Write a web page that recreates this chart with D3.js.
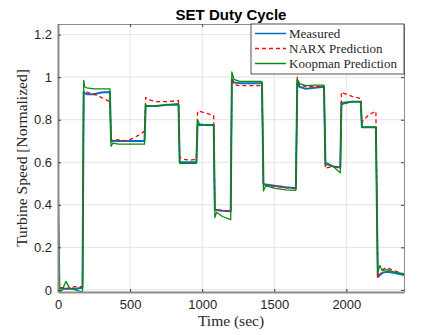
<html>
<head>
    <script src="https://d3js.org/d3.v7.min.js"></script>
    <style>
        body { margin: 0; background: #fff; }
    </style>
</head>
<body>
    <svg id="chart"></svg>
    <script>
        var Width = 447, Height = 335;
        var Margin = {left: 58, right: 43, top: 24, bottom: 43};

        // data
        var timeSec = [0, 10, 30, 55, 80, 120, 170, 178, 185, 200, 250, 300, 360, 368, 380, 420, 480, 540, 600,
            608, 620, 680, 760, 836, 844, 860, 920, 960, 968, 980, 1030, 1080, 1088, 1100, 1140, 1198,
            1206, 1220, 1260, 1330, 1415, 1425, 1440, 1500, 1580, 1650, 1660, 1675, 1720, 1780, 1845,
            1855, 1870, 1910, 1958, 1966, 1980, 2040, 2100, 2108, 2120, 2160, 2205, 2218, 2232, 2250,
            2280, 2330, 2400];
        var measured = [0.44, 0.01, 0.005, 0.005, 0.005, 0.005, 0.01, 0.93, 0.925, 0.92, 0.92, 0.928, 0.93, 0.70, 0.70, 0.70, 0.70, 0.70, 0.70,
            0.865, 0.865, 0.865, 0.87, 0.87, 0.60, 0.60, 0.60, 0.60, 0.78, 0.775, 0.775, 0.775, 0.375, 0.375, 0.372, 0.37,
            0.99, 0.975, 0.972, 0.972, 0.972, 0.50, 0.495, 0.49, 0.482, 0.478, 0.985, 0.955, 0.945, 0.95, 0.955,
            0.59, 0.59, 0.58, 0.575, 0.88, 0.88, 0.885, 0.885, 0.765, 0.765, 0.765, 0.765, 0.06, 0.07, 0.08,
            0.085, 0.08, 0.07];
        var narx = [0.44, 0.01, 0.01, 0.005, 0.01, 0.015, 0.015, 0.94, 0.935, 0.93, 0.92, 0.905, 0.885, 0.70, 0.705, 0.705, 0.70, 0.72, 0.745,
            0.905, 0.895, 0.885, 0.885, 0.89, 0.625, 0.615, 0.61, 0.615, 0.84, 0.84, 0.83, 0.82, 0.375, 0.375, 0.372, 0.37,
            0.995, 0.965, 0.96, 0.96, 0.96, 0.50, 0.49, 0.488, 0.48, 0.478, 1.0, 0.965, 0.955, 0.955, 0.955,
            0.57, 0.575, 0.58, 0.575, 0.93, 0.925, 0.91, 0.90, 0.785, 0.80, 0.825, 0.84, 0.055, 0.07, 0.095,
            0.105, 0.09, 0.075];
        var koopman = [0.44, -0.01, 0.0, 0.04, 0.008, 0.0, -0.01, 0.985, 0.955, 0.95, 0.945, 0.945, 0.945, 0.675, 0.69, 0.685, 0.685, 0.685, 0.685,
            0.87, 0.865, 0.865, 0.87, 0.875, 0.595, 0.595, 0.595, 0.595, 0.80, 0.78, 0.775, 0.775, 0.34, 0.365, 0.345, 0.33,
            1.025, 0.99, 0.98, 0.98, 0.98, 0.465, 0.49, 0.478, 0.47, 0.468, 0.99, 0.97, 0.96, 0.963, 0.963,
            0.60, 0.595, 0.58, 0.55, 0.87, 0.875, 0.885, 0.885, 0.765, 0.765, 0.765, 0.765, 0.08, 0.115, 0.09,
            0.095, 0.085, 0.075];

        var seriesNames = ["Measured", "NARX Prediction", "Koopman Prediction"];
        var seriesColors = ["#0072BD", "#FF0000", "#0A8A0A"];
        var xTicks = [0, 500, 1000, 1500, 2000];
        var yTicks = [0, 0.2, 0.4, 0.6, 0.8, 1, 1.2];

        var series = [measured, narx, koopman];

        var svg = d3.select("#chart")
            .attr("width", Width)
            .attr("height", Height);

        var x = d3.scaleLinear()
            .domain([0, 2400])
            .range([Margin.left, Width - Margin.right]);
        var y = d3.scaleLinear()
            .domain([-0.01, 1.25])
            .range([Height - Margin.bottom, Margin.top]);

        // grid
        svg.append("g").selectAll("line")
            .data(xTicks).enter().append("line")
                .attr("x1", function(d){ return x(d); })
                .attr("x2", function(d){ return x(d); })
                .attr("y1", y.range()[0])
                .attr("y2", y.range()[1])
                .attr("stroke", "#e3e3e3");
        svg.append("g").selectAll("line")
            .data(yTicks).enter().append("line")
                .attr("y1", function(d){ return y(d); })
                .attr("y2", function(d){ return y(d); })
                .attr("x1", x.range()[0])
                .attr("x2", x.range()[1])
                .attr("stroke", "#e3e3e3");

        // lines
        var line = d3.line()
            .x(function(d, i){ return x(timeSec[i]); })
            .y(function(d){ return y(d); });

        svg.append("defs").append("clipPath").attr("id", "clip")
            .append("rect")
                .attr("x", x.range()[0]).attr("y", y.range()[1])
                .attr("width", x.range()[1] - x.range()[0])
                .attr("height", y.range()[0] - y.range()[1]);

        var plot = svg.append("g").attr("clip-path", "url(#clip)");
        series.forEach(function(s, k){
            plot.append("path")
                .datum(s)
                .attr("d", line)
                .attr("fill", "none")
                .attr("stroke", seriesColors[k])
                .attr("stroke-width", k == 0 ? 2 : 1.3)
                .attr("stroke-dasharray", k == 1 ? "4,3" : null)
                .attr("stroke-linejoin", "round");
        });

        // axes (box with ticks on all sides)
        var tickFont = "Liberation Sans, Helvetica, Arial, sans-serif";
        var serifFont = "Liberation Serif, serif";
        function styleAxis(g)
        {
            g.select(".domain").attr("stroke", "#8c8c8c");
            g.selectAll(".tick line").attr("stroke", "#404040");
            g.selectAll(".tick text")
                .attr("fill", "#262626")
                .style("font-family", tickFont)
                .style("font-size", "13px");
        }
        var axBottom = svg.append("g")
            .attr("transform", "translate(0," + y.range()[0] + ")")
            .call(d3.axisBottom(x).tickValues(xTicks).tickSizeInner(-3).tickSizeOuter(0).tickPadding(8).tickFormat(d3.format("d")));
        styleAxis(axBottom);
        var axTop = svg.append("g")
            .attr("transform", "translate(0," + y.range()[1] + ")")
            .call(d3.axisTop(x).tickValues(xTicks).tickSizeInner(-3).tickSizeOuter(0).tickFormat(""));
        styleAxis(axTop);
        var axLeft = svg.append("g")
            .attr("transform", "translate(" + x.range()[0] + ",0)")
            .call(d3.axisLeft(y).tickValues(yTicks).tickSizeInner(-3).tickSizeOuter(0).tickPadding(6).tickFormat(d3.format("~g")));
        styleAxis(axLeft);
        var axRight = svg.append("g")
            .attr("transform", "translate(" + x.range()[1] + ",0)")
            .call(d3.axisRight(y).tickValues(yTicks).tickSizeInner(-3).tickSizeOuter(0).tickFormat(""));
        styleAxis(axRight);
        axBottom.select(".domain").attr("stroke-width", 2);
        axLeft.select(".domain").attr("stroke-width", 2);

        // titles
        svg.append("text")
            .attr("x", (x.range()[0] + x.range()[1]) / 2)
            .attr("y", 20)
            .attr("text-anchor", "middle")
            .style("font-family", tickFont)
            .style("font-weight", "bold")
            .style("font-size", "15px")
            .text("SET Duty Cycle");
        svg.append("text")
            .attr("x", (x.range()[0] + x.range()[1]) / 2)
            .attr("y", 326)
            .attr("text-anchor", "middle")
            .style("font-family", serifFont)
            .style("font-size", "15.5px")
            .attr("fill", "#262626")
            .text("Time (sec)");
        svg.append("text")
            .attr("transform", "translate(27," + ((y.range()[0] + y.range()[1]) / 2) + ") rotate(-90)")
            .attr("text-anchor", "middle")
            .style("font-family", serifFont)
            .style("font-size", "15.5px")
            .attr("fill", "#262626")
            .text("Turbine Speed [Normalized]");

        // legend
        var legend = svg.append("g");
        legend.append("rect")
            .attr("x", 251).attr("y", y.range()[1])
            .attr("width", x.range()[1] - 251).attr("height", 50)
            .attr("fill", "#fff")
            .attr("stroke", "#262626")
            .attr("stroke-width", 0.8);
        seriesNames.forEach(function(name, k){
            var ly = 33.5 + k * 15;
            legend.append("line")
                .attr("x1", 255).attr("x2", 286)
                .attr("y1", ly).attr("y2", ly)
                .attr("stroke", seriesColors[k])
                .attr("stroke-width", 1.5)
                .attr("stroke-dasharray", k == 1 ? "4,3" : null);
            legend.append("text")
                .attr("x", 289).attr("y", ly + 4)
                .style("font-family", serifFont)
                .style("font-size", "13px")
                .attr("fill", "#262626")
                .text(name);
        });
    </script>
</body>
</html>
